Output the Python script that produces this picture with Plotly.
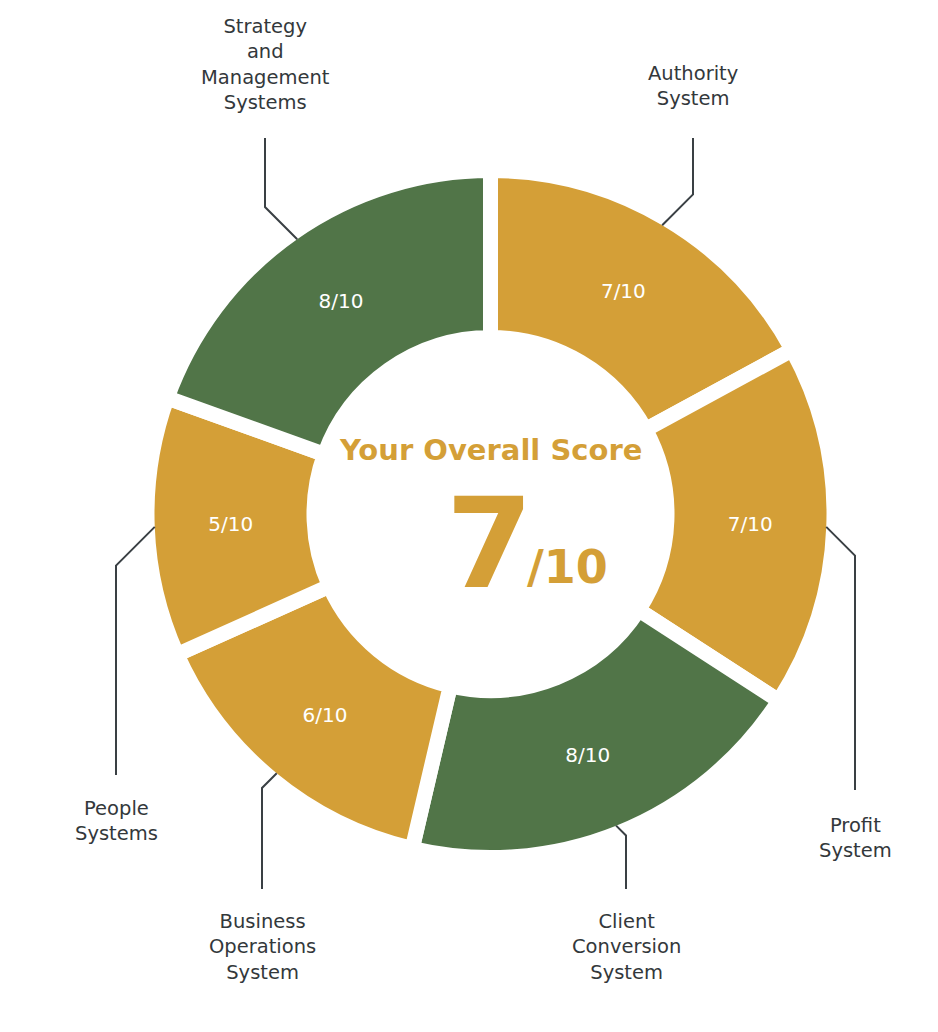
import math
import plotly.graph_objects as go

# ---------------- data ----------------
categories = ["Authority System", "Profit System", "Client Conversion System",
              "Business Operations System", "People Systems",
              "Strategy and Management Systems"]
label_lines = [["Authority", "System"],
               ["Profit", "System"],
               ["Client", "Conversion", "System"],
               ["Business", "Operations", "System"],
               ["People", "Systems"],
               ["Strategy", "and", "Management", "Systems"]]
scores = [7, 7, 8, 6, 5, 8]
max_score = 10
overall_score = 7

# ---------------- styles / layout ----------------
W, H = 938, 1032
GOLD = "#D49F37"
GREEN = "#517548"
TEXT = "#33383b"
LINE = "#3a4044"
slice_colors = [GREEN if s >= 8 else GOLD for s in scores]

CX, CY = 490.5, 514.0          # pixel centre of the ring
R_OUT, R_IN = 336.0, 184.0     # visible radii
GAP = 15                       # white gap between slices
R_PIE = R_OUT + GAP / 2
HOLE = (R_IN - GAP / 2) / R_PIE

# leader / label layout per category: label x, end of vertical line, direction, label block centre
label_x = [693, 855, 626, 262, 116, 265]
line_end_y = [138, 790, 889, 889, 775, 138]
line_dir = [-1, 1, 1, 1, 1, -1]
label_center_y = [86, 838, 947, 947, 821, 64]

def px(x):
    return x / W

def py(y):
    return 1 - y / H

fig = go.Figure(go.Pie(
    labels=categories,
    values=scores,
    sort=False,
    direction="clockwise",
    rotation=0,
    hole=HOLE,
    marker=dict(colors=slice_colors, line=dict(color="white", width=GAP)),
    texttemplate="%{value}/" + str(max_score),
    textposition="inside",
    insidetextorientation="horizontal",
    textfont=dict(family="DejaVu Sans", size=20, color="white"),
    hoverinfo="skip",
    showlegend=False,
    domain=dict(x=[px(CX - R_PIE), px(CX + R_PIE)],
                y=[py(CY + R_PIE), py(CY - R_PIE)]),
))

shapes = []
annotations = []
total = sum(scores)
cum = 0
for i, v in enumerate(scores):
    mid = (cum + v / 2) / total * 2 * math.pi
    cum += v
    sx = CX + R_OUT * math.sin(mid)
    sy = CY - R_OUT * math.cos(mid)
    ex = label_x[i]
    ey = sy + line_dir[i] * abs(ex - sx)
    path = "M {} {} L {} {} L {} {}".format(px(sx), py(sy), px(ex), py(ey),
                                            px(ex), py(line_end_y[i]))
    shapes.append(dict(type="path", xref="paper", yref="paper", path=path,
                       line=dict(color=LINE, width=2)))
    annotations.append(dict(
        text="<br>".join(label_lines[i]), x=px(ex), y=py(label_center_y[i]),
        xref="paper", yref="paper", xanchor="center", yanchor="middle", align="center",
        showarrow=False, font=dict(family="DejaVu Sans", size=19.5, color=TEXT)))

# centre text
annotations.append(dict(text="<b>Your Overall Score</b>", x=px(490.5), y=py(450),
                        xref="paper", yref="paper", xanchor="center", yanchor="middle",
                        showarrow=False,
                        font=dict(family="DejaVu Sans", size=29, color=GOLD)))
annotations.append(dict(text="<b>" + str(overall_score) + "</b>", x=px(490), y=py(543),
                        xref="paper", yref="paper", xanchor="center", yanchor="middle",
                        showarrow=False,
                        font=dict(family="DejaVu Sans", size=125, color=GOLD)))
annotations.append(dict(text="<b>/" + str(max_score) + "</b>", x=px(567), y=py(567),
                        xref="paper", yref="paper", xanchor="center", yanchor="middle",
                        showarrow=False,
                        font=dict(family="DejaVu Sans", size=46, color=GOLD)))

fig.update_layout(
    width=W, height=H,
    margin=dict(l=0, r=0, t=0, b=0),
    paper_bgcolor="white", plot_bgcolor="white",
    shapes=shapes, annotations=annotations,
    uniformtext=dict(minsize=20, mode="show"),
)

fig.write_html("out.html", config={"displayModeBar": False},
               post_script="document.body.style.margin='0';")
